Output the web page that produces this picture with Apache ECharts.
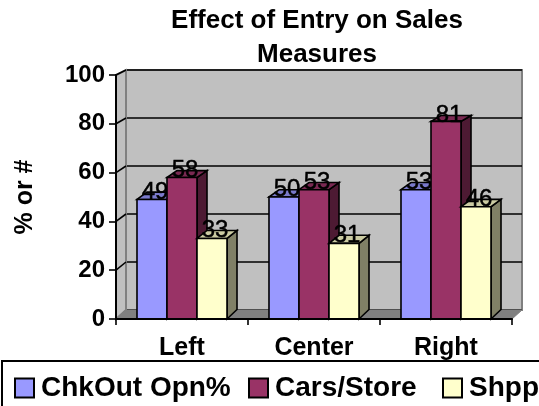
<!DOCTYPE html>
<html><head><meta charset="utf-8">
<style>html,body{margin:0;padding:0;background:#fff;overflow:hidden}#c{width:539px;height:406px}</style>
<script src="https://cdn.jsdelivr.net/npm/echarts@6/dist/echarts.min.js"></script>
</head><body><div id="c"></div>
<script>
const categories = ['Left', 'Center', 'Right'];
const chkOut = [49, 50, 53];
const carsStore = [58, 53, 81];
const shpp = [33, 31, 46];
const yTicks = [0, 20, 40, 60, 80, 100];

const FONT = '"Liberation Sans", Arial, sans-serif';
const FRONT = {left: 116, top: 75, width: 396, height: 244};
const BACK = {left: 126, top: 70, width: 396, height: 240};
const DX = BACK.left - FRONT.left;
const backY = v => BACK.top + BACK.height * (1 - v / 100);
const depthAt = v => 9.5 - 4.5 * v / 100;
const BAR_SHARE = 0.2273;

function barSeries(name, values, idx, front, top, side) {
  return {
    name, type: 'custom', xAxisIndex: 0, yAxisIndex: 0, z: 5 + idx,
    itemStyle: {color: front, borderColor: '#000', borderWidth: 2},
    data: values.map((v, i) => [i, v]),
    encode: {x: 0, y: 1},
    renderItem(params, api) {
      const v = api.value(1);
      const band = api.size([1, 0])[0];
      const w = band * BAR_SHARE;
      const c = api.coord([api.value(0), v]);
      const b = api.coord([api.value(0), 0]);
      const x0 = c[0] - 1.5 * w + idx * w, x1 = x0 + w;
      const dy = depthAt(v), dy0 = depthAt(0);
      const st = f => ({fill: f, stroke: '#000', lineWidth: 1.6});
      const poly = (points, f) => ({type: 'polygon', shape: {points}, style: st(f)});
      return {type: 'group', children: [
        poly([[x1, c[1]], [x1 + DX, c[1] - dy], [x1 + DX, b[1] - dy0], [x1, b[1]]], side),
        poly([[x0, c[1]], [x0 + DX, c[1] - dy], [x1 + DX, c[1] - dy], [x1, c[1]]], top),
        poly([[x0, c[1]], [x1, c[1]], [x1, b[1]], [x0, b[1]]], front),
        {type: 'text', z2: 100, silent: true,
         style: {text: String(v), x: (x0 + x1) / 2 + 3, y: c[1] - dy, align: 'center', verticalAlign: 'middle',
                 font: '24px ' + FONT, fill: '#000', stroke: '#000', lineWidth: 0.5}}
      ]};
    }
  };
}

const shell = {
  type: 'custom', xAxisIndex: 0, yAxisIndex: 0, z: 2, silent: true,
  data: yTicks.map(v => [0, v]),
  encode: {x: 0, y: 1},
  renderItem(params, api) {
    const v = api.value(1);
    const p = api.coord([0, v]);
    const ax = p[0] - api.size([1, 0])[0] / 2;
    const children = [];
    if (v === 0) {
      children.push({type: 'polygon', shape: {points: [[ax, FRONT.top], [BACK.left, BACK.top], [BACK.left, BACK.top + BACK.height], [ax, FRONT.top + FRONT.height]]}, style: {fill: '#c0c0c0', stroke: '#808080', lineWidth: 2}});
      children.push({type: 'polygon', shape: {points: [[ax, FRONT.top + FRONT.height], [BACK.left, BACK.top + BACK.height], [BACK.left + BACK.width, BACK.top + BACK.height], [FRONT.left + FRONT.width, FRONT.top + FRONT.height]]}, style: {fill: '#808080', stroke: '#808080', lineWidth: 1}});
    }
    if (v > 0) children.push({type: 'line', shape: {x1: ax, y1: p[1], x2: BACK.left, y2: backY(v)}, style: {stroke: '#000', lineWidth: 1.6}});
    return {type: 'group', children};
  }
};

const legendBase = {
  top: 374, itemWidth: 19, itemHeight: 19, padding: 0, icon: 'rect',
  itemStyle: {borderColor: '#000', borderWidth: 2},
  textStyle: {color: '#000', fontFamily: FONT, fontWeight: 'bold', fontSize: 28, padding: [0, 0, 0, 2]}
};

const chart = echarts.init(document.getElementById('c'), null, {renderer: 'canvas'});
chart.setOption({
  animation: false,
  backgroundColor: '#fff',
  title: {text: 'Effect of Entry on Sales\nMeasures', left: 312, top: -1, textAlign: 'center',
    textStyle: {fontFamily: FONT, fontWeight: 'bold', fontSize: 26, lineHeight: 34, color: '#000'}},
  grid: [
    Object.assign({z: 1}, FRONT),
    Object.assign({show: true, backgroundColor: '#c0c0c0', borderColor: '#808080', borderWidth: 2, z: 0}, BACK)
  ],
  xAxis: [
    {type: 'category', gridIndex: 0, data: categories, z: 20,
     axisLine: {lineStyle: {color: '#000', width: 2}},
     axisTick: {show: true, alignWithLabel: false, length: 6, lineStyle: {color: '#000', width: 1.6}},
     axisLabel: {margin: 17, color: '#000', fontFamily: FONT, fontWeight: 'bold', fontSize: 25}},
    {type: 'category', gridIndex: 1, data: categories, show: false}
  ],
  yAxis: [
    {type: 'value', gridIndex: 0, min: 0, max: 100, interval: 20, z: 20,
     name: '% or #', nameLocation: 'middle', nameGap: 78, nameRotate: 90,
     nameTextStyle: {color: '#000', fontFamily: FONT, fontWeight: 'bold', fontSize: 25},
     axisLine: {show: true, lineStyle: {color: '#000', width: 2}},
     axisTick: {show: true, length: 7, lineStyle: {color: '#000', width: 1.6}},
     axisLabel: {margin: 11, color: '#000', fontFamily: FONT, fontWeight: 'bold', fontSize: 24},
     splitLine: {show: false}},
    {type: 'value', gridIndex: 1, min: 0, max: 100, interval: 20,
     axisLine: {show: false}, axisTick: {show: false}, axisLabel: {show: false},
     splitLine: {show: true, lineStyle: {color: '#000', width: 1.6}}}
  ],
  legend: [
    Object.assign({left: 14, data: ['ChkOut Opn%']}, legendBase),
    Object.assign({left: 248, data: ['Cars/Store']}, legendBase),
    Object.assign({left: 442, data: ['Shpp']}, legendBase)
  ],
  graphic: [{type: 'rect', silent: true, shape: {x: 2, y: 361, width: 700, height: 80},
             style: {fill: 'none', stroke: '#000', lineWidth: 2}}],
  series: [
    shell,
    barSeries('ChkOut Opn%', chkOut, 0, '#9999ff', '#7a7acc', '#4d4d80'),
    barSeries('Cars/Store', carsStore, 1, '#993366', '#7a2952', '#4d1a33'),
    barSeries('Shpp', shpp, 2, '#ffffcc', '#cccca3', '#808066')
  ]
});
</script></body></html>
